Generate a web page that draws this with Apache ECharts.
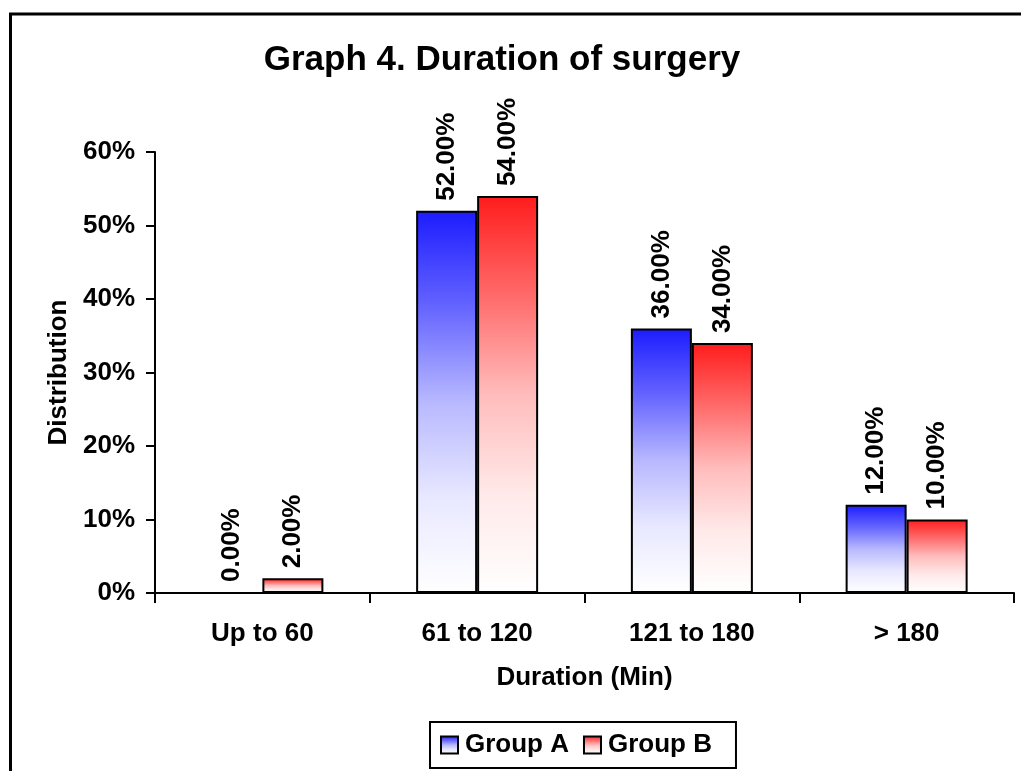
<!DOCTYPE html>
<html>
<head>
<meta charset="utf-8">
<script src="https://cdn.jsdelivr.net/npm/echarts@6/dist/echarts.min.js"></script>
<style>
html,body{margin:0;padding:0;background:#fff;}
#chart{width:1021px;height:771px;}
</style>
</head>
<body>
<div id="chart"></div>
<script>
const categories = ['Up to 60', '61 to 120', '121 to 180', '> 180'];
const groupA = [0, 52, 36, 12];
const groupB = [2, 54, 34, 10];
const seriesNames = ['Group A', 'Group B'];
const yTicks = [0, 10, 20, 30, 40, 50, 60];

const FONT = "'Liberation Sans', Arial, sans-serif";
const chart = echarts.init(document.getElementById('chart'), null, {renderer: 'canvas'});

function grad(stops) {
  return new echarts.graphic.LinearGradient(0, 0, 0, 1, stops.map((c, i) => ({offset: i / (stops.length - 1), color: c})));
}
const blueGrad = grad(['#1c1cff', '#6464ff', '#b8b8ff', '#e8e8ff', '#ffffff']);
const redGrad = grad(['#ff1c1c', '#ff6a6a', '#ffbcbc', '#ffe9e9', '#ffffff']);

const labelCfg = {
  show: true,
  position: 'top',
  rotate: 90,
  align: 'left',
  verticalAlign: 'middle',
  distance: 10,
  fontFamily: FONT,
  fontWeight: 'bold',
  fontSize: 26,
  color: '#000',
  formatter: p => p.value.toFixed(2) + '%'
};

chart.setOption({
  animation: false,
  backgroundColor: '#fff',
  graphic: [
    {type: 'rect', shape: {x: 10.5, y: 14, width: 1040, height: 800}, style: {fill: 'none', stroke: '#000', lineWidth: 3}, z: 100},
    {type: 'text', x: 502, y: 43, style: {text: 'Graph 4. Duration of surgery', font: 'bold 35px ' + FONT, fill: '#000', align: 'center', verticalAlign: 'top'}}
  ],
  grid: {left: 155, right: 7, top: 152, bottom: 178, containLabel: false},
  legend: {
    data: seriesNames,
    left: 430, top: 722,
    orient: 'horizontal',
    itemWidth: 17, itemHeight: 17, itemGap: 14,
    padding: [10, 24, 10, 10],
    borderColor: '#000', borderWidth: 2,
    icon: 'rect',
    textStyle: {fontFamily: FONT, fontWeight: 'bold', fontSize: 26, color: '#000', padding: [0, 0, 0, 2]}
  },
  xAxis: {
    type: 'category',
    data: categories,
    name: 'Duration (Min)',
    nameLocation: 'middle',
    nameGap: 72,
    nameTextStyle: {fontFamily: FONT, fontWeight: 'bold', fontSize: 26, color: '#000'},
    axisLine: {lineStyle: {color: '#000', width: 2}},
    axisTick: {show: true, length: 10, lineStyle: {color: '#000', width: 2}},
    axisLabel: {margin: 28, fontFamily: FONT, fontWeight: 'bold', fontSize: 26, color: '#000'},
    splitLine: {show: false}
  },
  yAxis: {
    type: 'value',
    min: yTicks[0], max: yTicks[yTicks.length - 1], interval: 10,
    name: 'Distribution',
    nameLocation: 'middle',
    nameGap: 80,
    nameTextStyle: {fontFamily: FONT, fontWeight: 'bold', fontSize: 26, color: '#000'},
    axisLine: {show: true, lineStyle: {color: '#000', width: 2}},
    axisTick: {show: true, length: 9, lineStyle: {color: '#000', width: 2}},
    axisLabel: {margin: 20, formatter: '{value}%', fontFamily: FONT, fontWeight: 'bold', fontSize: 26, color: '#000'},
    splitLine: {show: false}
  },
  series: [
    {name: seriesNames[0], type: 'bar', data: groupA, barWidth: 61, barGap: '0%',
     itemStyle: {color: blueGrad, borderColor: '#000', borderWidth: 2}, label: labelCfg},
    {name: seriesNames[1], type: 'bar', data: groupB, barWidth: 61, barGap: '0%',
     itemStyle: {color: redGrad, borderColor: '#000', borderWidth: 2}, label: labelCfg}
  ]
});
</script>
</body>
</html>
